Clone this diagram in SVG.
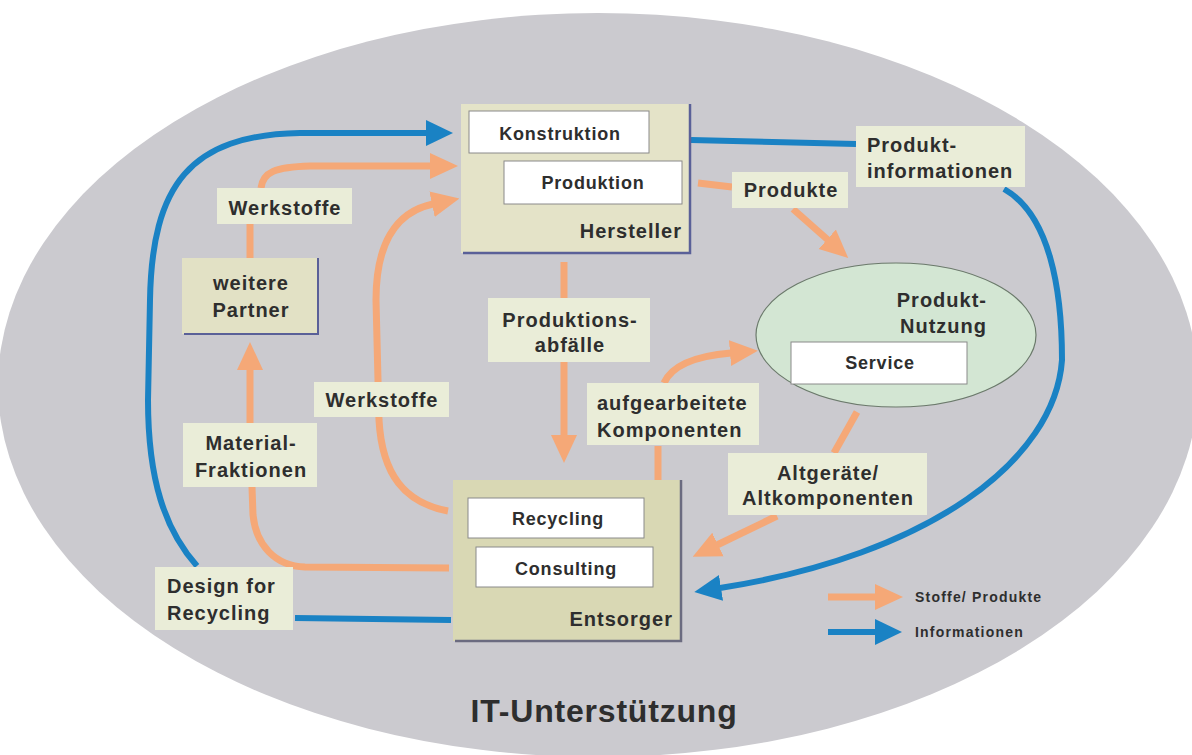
<svg xmlns="http://www.w3.org/2000/svg" width="1192" height="755" viewBox="0 0 1192 755">
<style>
.t{font-family:"Liberation Sans",Arial,Helvetica,sans-serif;font-weight:bold;fill:#2e2e2e}
.s20{font-size:20px;letter-spacing:1px}
.s18{font-size:18px;letter-spacing:0.8px}
.s14{font-size:14px;letter-spacing:1.2px}
.mid{text-anchor:middle}
.end{text-anchor:end}
.lbl{fill:#eaedd8}
.inner{fill:#ffffff;stroke:#8a8a8a;stroke-width:1}
.or{fill:none;stroke:#f5a877;stroke-width:7}
.bl{fill:none;stroke:#1a82c4;stroke-width:6}
</style>
<defs>
<marker id="ao" markerUnits="userSpaceOnUse" markerWidth="28" markerHeight="28" viewBox="0 0 28 28" refX="1" refY="14" orient="auto">
<path d="M0,1 L28,14 L0,27 z" fill="#f5a877"/>
</marker>
<marker id="ab" markerUnits="userSpaceOnUse" markerWidth="28" markerHeight="28" viewBox="0 0 28 28" refX="1" refY="14" orient="auto">
<path d="M0,1 L27,14 L0,27 z" fill="#1a82c4"/>
</marker>
</defs>
<rect x="0" y="0" width="1192" height="755" fill="#ffffff"/>
<ellipse id="it-bg" cx="598" cy="385" rx="600" ry="372" fill="#cbcacf"/>
<text class="t mid" x="604" y="722" font-size="32" letter-spacing="0.8">IT-Unterstützung</text>

<g id="connectors">
<path class="bl" d="M197,566 C165,530 148,480 148,400 L150,300 C152,185 190,135 300,133 L427,133" marker-end="url(#ab)"/>
<path class="bl" d="M691,140 L856,144"/>
<path class="bl" d="M1004,189 C1050,215 1062,290 1062,360 C1055,460 930,555 720,588" marker-end="url(#ab)"/>
<path class="bl" d="M451,620 L295,618"/>
<path class="or" d="M250,258 L250,224"/>
<path class="or" d="M261,188 C263,172 275,167 310,166 L431,166" marker-end="url(#ao)"/>
<path class="or" d="M448,511 C405,503 382,475 379,420 L376,300 C376,245 395,212 433,204" marker-end="url(#ao)"/>
<path class="or" d="M250,423 L250,369" marker-end="url(#ao)"/>
<path class="or" d="M449,568 L305,567 C275,566 256,545 253,515 L252,487"/>
<path class="or" d="M564,262 L564,298"/>
<path class="or" d="M564,362 L564,436" marker-end="url(#ao)"/>
<path class="or" d="M698,183 L732,187"/>
<path class="or" d="M793,209 L828,240" marker-end="url(#ao)"/>
<path class="or" d="M658,480 L658,446"/>
<path class="or" d="M664,383 C672,365 695,356 731,353" marker-end="url(#ao)"/>
<path class="or" d="M857,412 L834,453"/>
<path class="or" d="M777,516 L717,545" marker-end="url(#ao)"/>
<path class="or" d="M828,597 L876,597" marker-end="url(#ao)"/>
<path class="bl" d="M828,632 L876,632" marker-end="url(#ab)"/>
</g>

<g id="hersteller">
<rect x="461" y="104" width="229" height="149" fill="#e4e3c8"/>
<path d="M690,104 L690,253 L463,253" fill="none" stroke="#5a6098" stroke-width="2.5"/>
<rect class="inner" x="469" y="111" width="180" height="42"/>
<text class="t s18 mid" x="560" y="140">Konstruktion</text>
<rect class="inner" x="504" y="161" width="178" height="43"/>
<text class="t s18 mid" x="593" y="189">Produktion</text>
<text class="t s20 end" x="682" y="238">Hersteller</text>
</g>

<g id="entsorger">
<rect x="453" y="480" width="228" height="161" fill="#d9d8b4"/>
<path d="M681,480 L681,641 L455,641" fill="none" stroke="#6b6b80" stroke-width="2.5"/>
<rect class="inner" x="468" y="498" width="176" height="40"/>
<text class="t s18 mid" x="558" y="525">Recycling</text>
<rect class="inner" x="476" y="547" width="177" height="40"/>
<text class="t s18 mid" x="566" y="575">Consulting</text>
<text class="t s20 end" x="673" y="626">Entsorger</text>
</g>

<g id="produkt-nutzung">
<ellipse cx="896" cy="335" rx="140" ry="72" fill="#d3e6d3" stroke="#6b7a6b" stroke-width="1.2"/>
<text class="t s20 end" x="987" y="307">Produkt-</text>
<text class="t s20 end" x="987" y="333">Nutzung</text>
<rect class="inner" x="791" y="342" width="176" height="42"/>
<text class="t s18 mid" x="880" y="369">Service</text>
</g>

<g id="weitere-partner">
<rect x="182" y="258" width="136" height="76" fill="#e2e1c5"/>
<path d="M318,258 L318,334 L184,334" fill="none" stroke="#5a6098" stroke-width="2"/>
<text class="t s20 mid" x="251" y="290">weitere</text>
<text class="t s20 mid" x="251" y="317">Partner</text>
</g>

<g id="label-werkstoffe-1">
<rect class="lbl" x="217" y="188" width="135" height="36"/>
<text class="t s20 mid" x="285" y="215">Werkstoffe</text>
</g>
<g id="label-werkstoffe-2">
<rect class="lbl" x="314" y="382" width="135" height="35"/>
<text class="t s20 mid" x="382" y="407">Werkstoffe</text>
</g>
<g id="label-materialfraktionen">
<rect class="lbl" x="183" y="423" width="134" height="64"/>
<text class="t s20 mid" x="251" y="450">Material-</text>
<text class="t s20 mid" x="251" y="477">Fraktionen</text>
</g>
<g id="label-design">
<rect class="lbl" x="155" y="567" width="138" height="63"/>
<text class="t s20" x="167" y="593">Design for</text>
<text class="t s20" x="167" y="620">Recycling</text>
</g>
<g id="label-produktionsabfaelle">
<rect class="lbl" x="488" y="298" width="162" height="64"/>
<text class="t s20 mid" x="570" y="327">Produktions-</text>
<text class="t s20 mid" x="570" y="352">abfälle</text>
</g>
<g id="label-aufgearbeitete">
<rect class="lbl" x="587" y="383" width="172" height="62"/>
<text class="t s20" x="597" y="410">aufgearbeitete</text>
<text class="t s20" x="597" y="437">Komponenten</text>
</g>
<g id="label-produkte">
<rect class="lbl" x="732" y="172" width="116" height="36"/>
<text class="t s20 mid" x="791" y="197">Produkte</text>
</g>
<g id="label-produktinformationen">
<rect class="lbl" x="856" y="126" width="169" height="61"/>
<text class="t s20" x="867" y="152">Produkt-</text>
<text class="t s20" x="867" y="178">informationen</text>
</g>
<g id="label-altgeraete">
<rect class="lbl" x="728" y="453" width="199" height="62"/>
<text class="t s20 mid" x="828" y="480">Altgeräte/</text>
<text class="t s20 mid" x="828" y="505">Altkomponenten</text>
</g>

<g id="legend">
<text class="t s14" x="915" y="602">Stoffe/ Produkte</text>
<text class="t s14" x="915" y="637">Informationen</text>
</g>
</svg>
